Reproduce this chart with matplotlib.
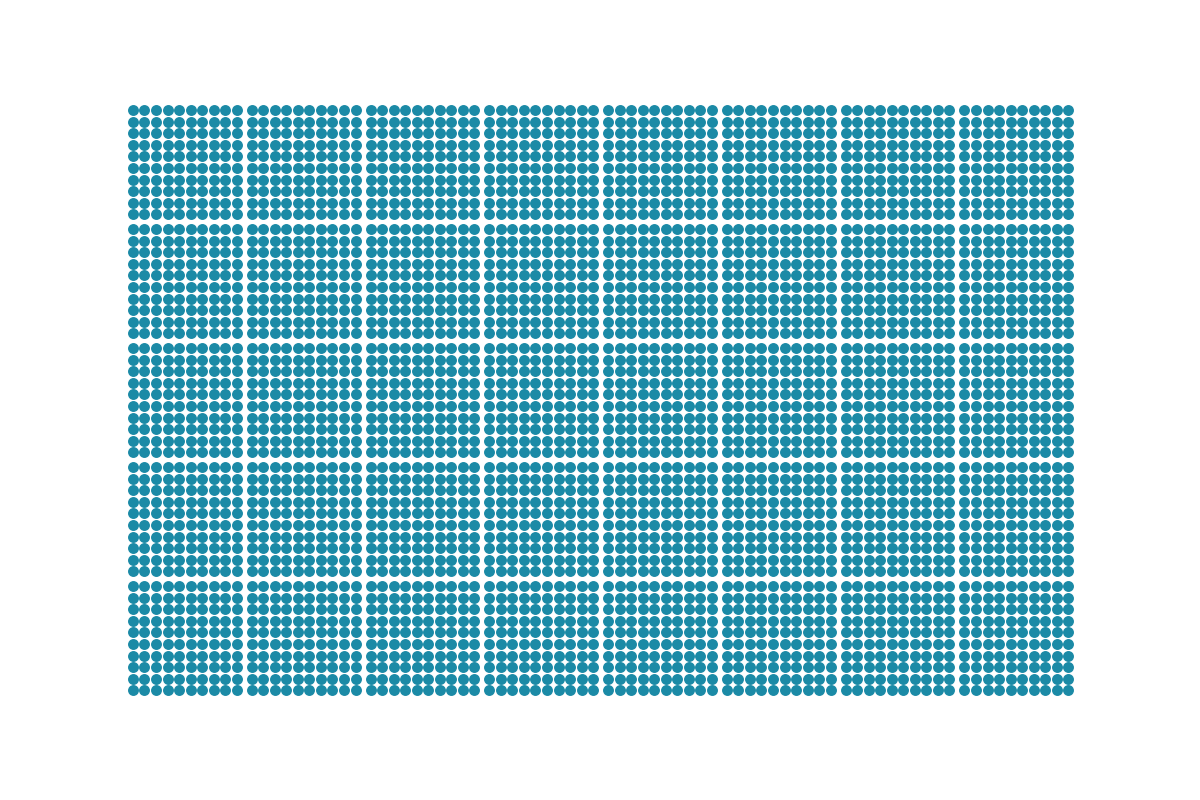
import numpy as np
import matplotlib.pyplot as plt

# waffle of dots: 8 x 5 blocks, each block a 10 x 10 grid of dots
block_cols = 8
block_rows = 5
dots_per_side = 10
block_gap = 0.3
dot_color = "#1b8aa6"

xs = []
ys = []
for br in range(block_rows):
    for bc in range(block_cols):
        for r in range(dots_per_side):
            for c in range(dots_per_side):
                xs.append(bc * (dots_per_side + block_gap) + c)
                ys.append(br * (dots_per_side + block_gap) + r)

xs = np.array(xs)
ys = np.array(ys)

fig = plt.figure(figsize=(12, 8), dpi=100)
ax = fig.add_axes([0.106, 0.130, 0.789, 0.7395])

ax.scatter(xs, ys, s=62, color=dot_color, linewidths=0)

x_max = (block_cols - 1) * (dots_per_side + block_gap) + dots_per_side - 1
y_max = (block_rows - 1) * (dots_per_side + block_gap) + dots_per_side - 1
ax.set_xlim(-0.5, x_max + 0.5)
ax.set_ylim(y_max + 0.5, -0.5)
ax.axis("off")

fig.savefig("out.png", dpi=100, facecolor="white")
